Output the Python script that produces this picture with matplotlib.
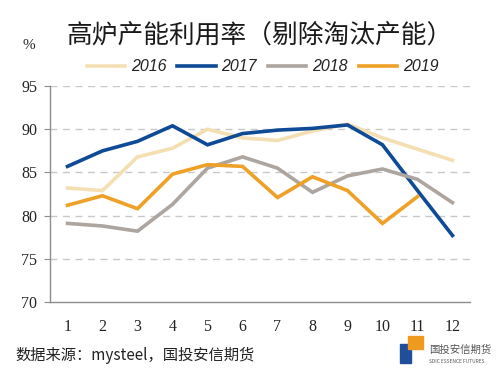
import matplotlib
matplotlib.use("Agg")
import matplotlib.pyplot as plt
from matplotlib.patches import Rectangle

plt.rcParams['font.family'] = ['Noto Sans CJK SC', 'DejaVu Sans']

months = list(range(1, 13))
y2016 = [83.2, 82.9, 86.8, 87.8, 90.0, 89.0, 88.7, 89.8, 90.6, 89.0, 87.7, 86.4]
y2017 = [85.7, 87.5, 88.6, 90.4, 88.2, 89.5, 89.9, 90.1, 90.5, 88.2, 82.9, 77.7]
y2018 = [79.1, 78.8, 78.2, 81.3, 85.5, 86.8, 85.5, 82.7, 84.6, 85.4, 84.2, 81.5]
y2019 = [81.2, 82.3, 80.8, 84.8, 85.9, 85.7, 82.1, 84.5, 82.9, 79.1, 82.2]
series_labels = ['2016', '2017', '2018', '2019']
yticks = [70, 75, 80, 85, 90, 95]
title = '高炉产能利用率（剔除淘汰产能）'
source = '数据来源：mysteel，国投安信期货'

colors = ['#F3DFB2', '#0E4A95', '#ADA59F', '#EEA126']

fig = plt.figure(figsize=(5.0, 3.71), dpi=100)
ax = fig.add_axes([0.10, 0.186, 0.84, 0.582])

data = [y2016, y2017, y2018, y2019]
for vals, lab, c in zip(data, series_labels, colors):
    ax.plot(months[:len(vals)], vals, color=c, lw=2.6, label=lab,
            solid_joinstyle='miter', zorder=3)

ax.set_xlim(0.5, 12.5)
ax.set_ylim(70, 95)
ax.set_yticks(yticks)
ax.set_xticks(months)
for y in yticks[1:]:
    ax.axhline(y, color='#C8C8C8', lw=1.0, ls=(0, (5, 4)), zorder=1)

for s in ['top', 'right']:
    ax.spines[s].set_visible(False)
for s in ['left', 'bottom']:
    ax.spines[s].set_color('#8C8C8C')
    ax.spines[s].set_linewidth(1.0)

ax.tick_params(axis='y', length=4, color='#8C8C8C', pad=5, labelsize=11.5)
ax.tick_params(axis='x', length=0, pad=12, labelsize=11.5)
for lbl in ax.get_xticklabels() + ax.get_yticklabels():
    lbl.set_fontfamily('Liberation Serif')
    lbl.set_color('#222222')

fig.text(0.52, 0.905, title, ha='center', va='center', fontsize=18.5,
         color='#1a1a1a', family=['Noto Sans CJK SC', 'DejaVu Sans'])
fig.text(0.057, 0.878, '%', ha='center', va='center', fontsize=11,
         family='Liberation Serif', color='#222222')

leg = fig.legend(loc='center', bbox_to_anchor=(0.525, 0.82), ncol=4, frameon=False,
                 handlelength=2.4, handletextpad=0.35, columnspacing=0.7,
                 prop={'family': 'Liberation Sans', 'style': 'italic', 'size': 11.5})
for t in leg.get_texts():
    t.set_color('#222222')

fig.text(0.03, 0.043, source, ha='left', va='center', fontsize=11, color='#222222')

# simplified logo
fig.patches.append(Rectangle((0.80, 0.022), 0.022, 0.05, transform=fig.transFigure,
                             color='#1F4E9A'))
fig.patches.append(Rectangle((0.815, 0.06), 0.03, 0.035, transform=fig.transFigure,
                             color='#EE9A1E'))
fig.text(0.858, 0.058, '国投安信期货', ha='left', va='center', fontsize=7.5, color='#555555')
fig.text(0.858, 0.025, 'SDIC ESSENCE FUTURES', ha='left', va='center', fontsize=3.5,
         color='#555555')

fig.savefig('out.png', dpi=100)
